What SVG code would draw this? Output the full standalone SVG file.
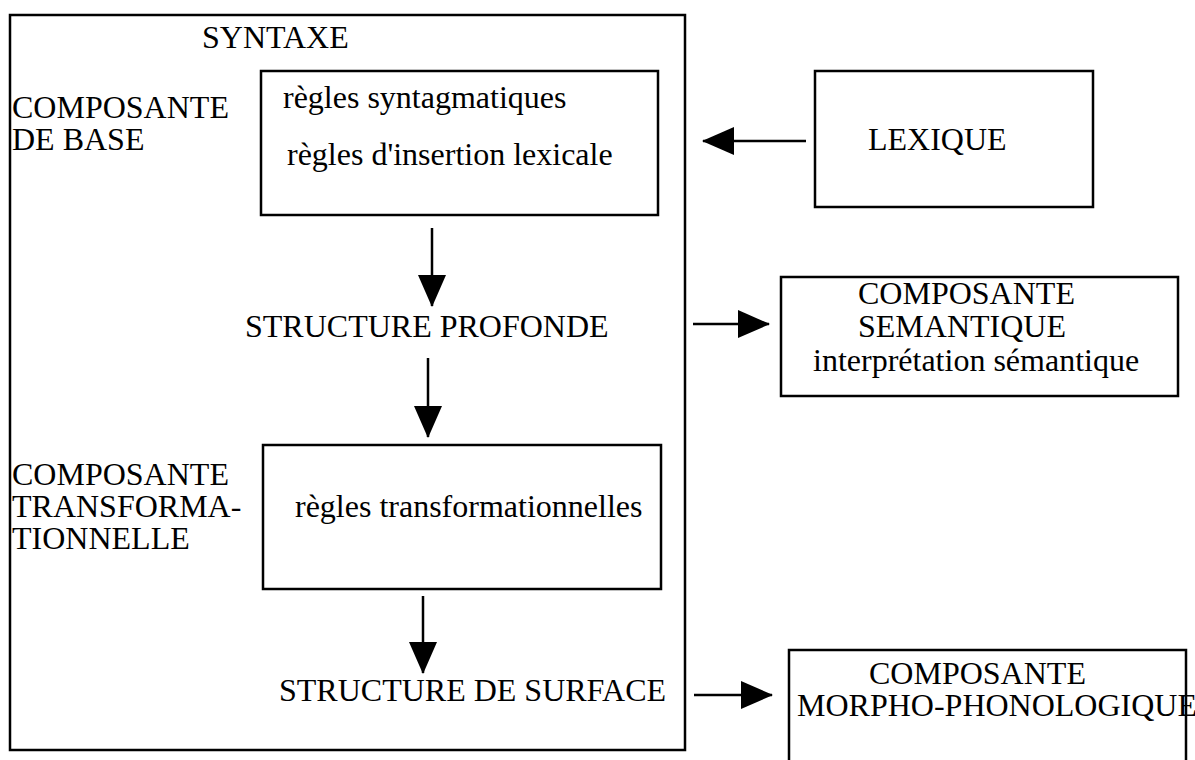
<svg xmlns="http://www.w3.org/2000/svg" width="1195" height="760" viewBox="0 0 1195 760">
<defs>
<style>
.box{fill:none;stroke:#000;stroke-width:2.5}
.t{font-family:"Liberation Serif","Times New Roman",serif;font-size:32px;fill:#000}
.c{stroke:#000;stroke-width:2.5;fill:none}
</style>
<marker id="ah" markerWidth="32" markerHeight="28" refX="31" refY="14" orient="auto" markerUnits="userSpaceOnUse">
<path d="M0,0 L32,14 L0,28 z" fill="#000"/>
</marker>
</defs>
<rect width="1195" height="760" fill="#fff"/>
<g id="syntaxe">
<rect class="box" x="10" y="15" width="675" height="735"/>
<text class="t" x="202" y="48">SYNTAXE</text>
</g>
<g id="composante-base">
<text class="t" x="12" y="118">COMPOSANTE</text>
<text class="t" x="12" y="150">DE BASE</text>
</g>
<g id="regles-base">
<rect class="box" x="261" y="71" width="397" height="144"/>
<text class="t" x="283" y="108">règles syntagmatiques</text>
<text class="t" x="287" y="165">règles d'insertion lexicale</text>
</g>
<g id="structure-profonde">
<text class="t" x="245" y="337">STRUCTURE PROFONDE</text>
</g>
<g id="composante-transformationnelle">
<text class="t" x="12" y="485">COMPOSANTE</text>
<text class="t" x="12" y="517">TRANSFORMA-</text>
<text class="t" x="12" y="549">TIONNELLE</text>
</g>
<g id="regles-transformationnelles">
<rect class="box" x="263" y="445" width="398" height="144"/>
<text class="t" x="295" y="517">règles transformationnelles</text>
</g>
<g id="structure-surface">
<text class="t" x="279" y="701">STRUCTURE DE SURFACE</text>
</g>
<g id="lexique">
<rect class="box" x="815" y="71" width="278" height="136"/>
<text class="t" x="868" y="150">LEXIQUE</text>
</g>
<g id="composante-semantique">
<rect class="box" x="781" y="277" width="397" height="119"/>
<text class="t" x="858" y="304">COMPOSANTE</text>
<text class="t" x="858" y="337">SEMANTIQUE</text>
<text class="t" x="813" y="371">interprétation sémantique</text>
</g>
<g id="composante-morpho">
<rect class="box" x="789" y="650" width="397" height="140"/>
<text class="t" x="869" y="684">COMPOSANTE</text>
<text class="t" x="797" y="716">MORPHO-PHONOLOGIQUE</text>
</g>
<g id="connectors">
<line class="c" x1="806" y1="141" x2="703" y2="141" marker-end="url(#ah)"/>
<line class="c" x1="432" y1="228" x2="432" y2="306" marker-end="url(#ah)"/>
<line class="c" x1="428" y1="358" x2="428" y2="437" marker-end="url(#ah)"/>
<line class="c" x1="423" y1="596" x2="423" y2="673" marker-end="url(#ah)"/>
<line class="c" x1="693" y1="324" x2="769" y2="324" marker-end="url(#ah)"/>
<line class="c" x1="694" y1="695" x2="772" y2="695" marker-end="url(#ah)"/>
</g>
</svg>
